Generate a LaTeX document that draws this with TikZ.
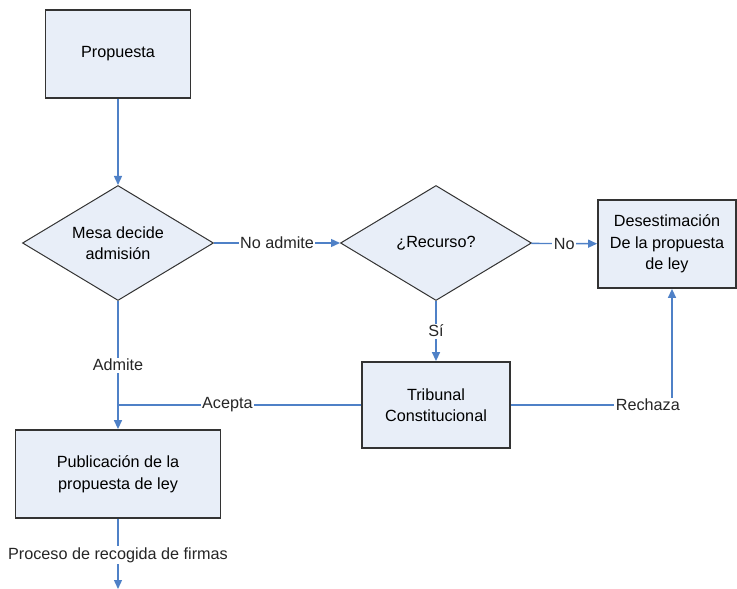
\documentclass[tikz,border=0pt]{standalone}
\usepackage{fontspec}
\setmainfont{Liberation Sans}
\usetikzlibrary{positioning, shapes.geometric, arrows.meta}

\definecolor{boxfill}{RGB}{232,238,248}
\definecolor{flowblue}{RGB}{79,129,199}

\begin{document}
\begin{tikzpicture}[
    x=1pt, y=-1pt,
    font=\fontsize{16.2}{21.5}\selectfont,
    block/.style={rectangle, draw=black!80, line width=1.8pt, fill=boxfill, align=center, inner sep=2pt},
    decision/.style={diamond, draw=black!80, line width=1pt, fill=boxfill, align=center, inner xsep=0pt, inner ysep=-12pt, minimum width=191pt, minimum height=115pt},
    flow/.style={draw=flowblue, line width=1.4pt},
    arrow/.style={flow, -{Triangle[length=9pt, width=8pt]}},
    tag/.style={fill=white, inner sep=1.5pt, text=black!85}
]
\useasboundingbox (0,0) rectangle (737,589);

% Blocks and decisions
\node[block, minimum width=145pt, minimum height=88pt] (propuesta) at (118,54) {Propuesta};
\node[decision] (mesa) at (118,243) {Mesa decide\\admisión};
\node[decision] (recurso) at (436,243) {¿Recurso?};
\node[block, minimum width=138pt, minimum height=88pt] (desestim) at (667,244) {Desestimación\\De la propuesta\\de ley};
\node[block, minimum width=148pt, minimum height=86pt] (tribunal) at (436,405) {Tribunal\\Constitucional};
\node[block, minimum width=205pt, minimum height=88pt] (publicacion) at (118,474) {Publicación de la\\propuesta de ley};

% Helper points
\coordinate (acepta) at (118,405);
\coordinate (rechazo) at (672,405);
\coordinate (firmas) at (118,589);

% Connections
\draw[arrow] (propuesta) -- (mesa);
\draw[arrow] (mesa) -- node[tag] {No admite} (recurso);
\draw[arrow] (recurso) -- node[tag] {No} (desestim);
\draw[arrow] (recurso) -- node[tag] {Sí} (tribunal);
\draw[arrow] (mesa) -- node[tag] {Admite} (publicacion);
\draw[flow] (tribunal) -- node[tag, pos=0.55] {Acepta} (acepta);
\draw[arrow] (tribunal) -- node[tag, pos=0.85] {Rechaza} (rechazo) -- (rechazo |- desestim.south);
\draw[arrow] (publicacion) -- node[tag, pos=0.52] {Proceso de recogida de firmas} (firmas);

\end{tikzpicture}
\end{document}
